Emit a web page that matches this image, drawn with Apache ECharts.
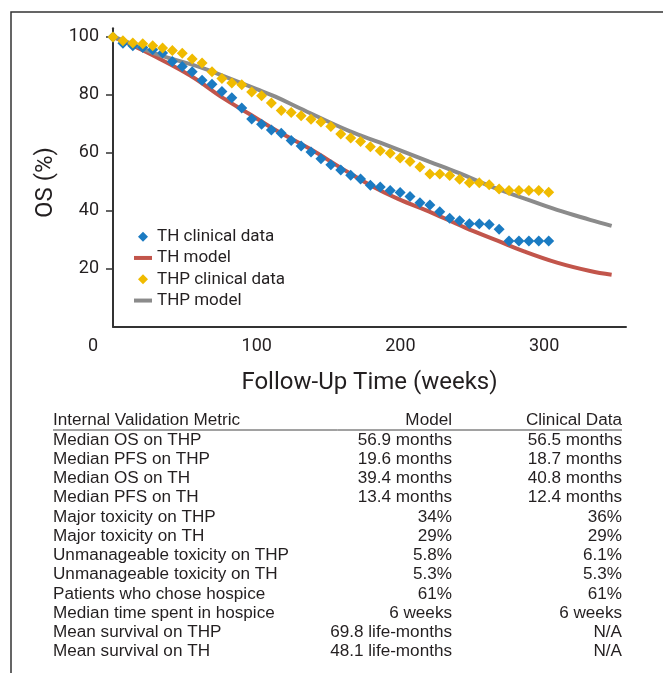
<!DOCTYPE html>
<html>
<head>
<meta charset="utf-8">
<script src="https://cdn.jsdelivr.net/npm/echarts@6.0.0/dist/echarts.min.js"></script>
<style>
  html, body { margin: 0; padding: 0; background: #fff; }
  #chart { width: 663px; height: 673px; }
</style>
</head>
<body>
<div id="chart"></div>
<script>
// clinical data points (weeks, OS %)
const clinicalWeeks = [0, 6.9, 13.8, 20.7, 27.6, 34.5, 41.3, 48.2, 55.1, 62.0, 68.9, 75.8, 82.7, 89.6, 96.5,
  103.4, 110.2, 117.1, 124.0, 130.9, 137.8, 144.7, 151.6, 158.5, 165.4, 172.3, 179.1, 186.0, 192.9, 199.8,
  206.7, 213.6, 220.5, 227.4, 234.3, 241.2, 248.0, 254.9, 261.8, 268.7, 275.6, 282.5, 289.4, 296.3, 303.2]
const thClinical = [100, 97.8, 97.0, 96.4, 95.6, 94.5, 91.5, 89.8, 88.0, 85.1, 83.7, 81.2, 79.0, 75.5, 71.7,
  69.9, 67.9, 66.8, 64.3, 62.4, 60.3, 58.0, 55.9, 54.1, 52.3, 51.0, 48.8, 48.2, 47.0, 46.3,
  44.9, 42.8, 42.0, 39.7, 37.4, 36.6, 35.5, 35.5, 35.3, 33.6, 29.6, 29.6, 29.6, 29.6, 29.6]
const thpClinical = [100, 98.7, 97.9, 97.7, 97.0, 96.2, 95.3, 94.4, 92.4, 91.0, 88.0, 85.7, 84.1, 83.5, 81.0,
  79.7, 77.2, 74.6, 73.9, 72.8, 71.6, 70.7, 69.1, 66.5, 65.1, 63.9, 62.1, 60.7, 59.9, 58.2,
  57.0, 55.1, 52.7, 52.7, 52.2, 50.9, 49.7, 49.7, 49.0, 47.5, 47.0, 47.0, 47.0, 47.0, 46.4]

// model curves
const thModelWeeks = [0, 14, 30, 54, 77, 95, 114, 137, 160, 180, 198, 222, 245, 268, 286, 309, 332, 347]
const thModel = [100, 97.0, 93.1, 86.6, 78.8, 73.4, 67.6, 61.4, 54.4, 48.6, 44.2, 39.3, 34.2, 29.6, 26.0, 22.1, 19.2, 17.9]
const thpModelWeeks = [0, 7, 30, 61, 77, 100, 113, 130, 165, 186, 220, 241, 262, 286, 309, 332, 347]
const thpModel = [100, 98.8, 94.2, 89.5, 86.5, 82.0, 79.4, 75.4, 67.4, 63.5, 57.0, 53.0, 48.6, 44.3, 40.3, 36.9, 34.8]

const xTicks = [0, 100, 200, 300]
const yTicks = [20, 40, 60, 80, 100]

// validation table
const tableHeader = ['Internal Validation Metric', 'Model', 'Clinical Data']
const metricNames = ['Median OS on THP', 'Median PFS on THP', 'Median OS on TH', 'Median PFS on TH',
  'Major toxicity on THP', 'Major toxicity on TH', 'Unmanageable toxicity on THP', 'Unmanageable toxicity on TH',
  'Patients who chose hospice', 'Median time spent in hospice', 'Mean survival on THP', 'Mean survival on TH']
const modelValues = ['56.9 months', '19.6 months', '39.4 months', '13.4 months', '34%', '29%', '5.8%', '5.3%',
  '61%', '6 weeks', '69.8 life-months', '48.1 life-months']
const clinicalValues = ['56.5 months', '18.7 months', '40.8 months', '12.4 months', '36%', '29%', '6.1%', '5.3%',
  '61%', '6 weeks', 'N/A', 'N/A']

const zip = (xs, ys) => xs.map((x, i) => [x, ys[i]])

const ink = '#231f20'
const chartFont = 'Roboto'
const tableFont = '16px "Liberation Sans", Arial, sans-serif'
const diamondIcon = 'path://M5 0L10 5L5 10L0 5Z'
const lineIcon = 'path://M0 0H18V4H0Z'

function tableGraphics() {
  const els = []
  const rowY = 421
  const rowH = 19.25
  const cols = [
    { x: 53, align: 'left' },
    { x: 452, align: 'right' },
    { x: 622, align: 'right' }
  ]
  const addRow = (cells, y) => {
    cells.forEach((t, c) => {
      els.push({
        type: 'text',
        x: cols[c].x,
        y: y,
        scaleX: 1.07,
        style: { text: t, x: 0, y: 0, font: tableFont, fill: ink, align: cols[c].align, verticalAlign: 'middle' }
      })
    })
  }
  addRow(tableHeader, rowY)
  metricNames.forEach((m, i) => {
    addRow([m, modelValues[i], clinicalValues[i]], rowY + (i + 1) * rowH)
  })
  els.push({
    type: 'line',
    shape: { x1: 53, y1: 430, x2: 622, y2: 430 },
    style: { stroke: '#444', lineWidth: 1 }
  })
  // frame
  els.push({
    type: 'polyline',
    shape: { points: [[11, 673], [11, 12], [663, 12]] },
    style: { stroke: '#333', lineWidth: 1.5, fill: null }
  })
  return els
}

const chart = echarts.init(document.getElementById('chart'))
chart.setOption({
  animation: false,
  backgroundColor: '#fff',
  grid: { left: 113, right: 37, top: 28.3, bottom: 346.3, containLabel: false },
  legend: {
    orient: 'vertical',
    left: 134,
    top: 226,
    padding: 0,
    itemWidth: 18,
    itemHeight: 10,
    itemGap: 0,
    textStyle: { fontFamily: chartFont, fontSize: 17, color: ink, lineHeight: 21.3 },
    data: [
      { name: 'TH clinical data', icon: diamondIcon },
      { name: 'TH model', icon: lineIcon },
      { name: 'THP clinical data', icon: diamondIcon },
      { name: 'THP model', icon: lineIcon }
    ]
  },
  xAxis: {
    type: 'value',
    min: 0,
    max: 357,
    name: 'Follow-Up Time (weeks)',
    nameLocation: 'middle',
    nameGap: 44,
    nameTextStyle: { fontFamily: chartFont, fontSize: 24, color: ink },
    axisLine: { lineStyle: { color: '#333', width: 2 } },
    axisTick: { show: false },
    splitLine: { show: false },
    axisLabel: {
      customValues: xTicks,
      margin: 11,
      fontFamily: chartFont,
      fontSize: 18,
      color: ink,
      formatter: v => (v === 0 ? '{z|0}' : String(v)),
      rich: { z: { fontFamily: chartFont, fontSize: 18, color: ink, padding: [0, 40, 0, 0] } }
    }
  },
  yAxis: {
    type: 'value',
    min: 0,
    max: 103,
    name: 'OS (%)',
    nameLocation: 'middle',
    nameGap: 50,
    nameTextStyle: { fontFamily: chartFont, fontSize: 24, color: ink, padding: [0, 10, 0, 0] },
    axisLine: { show: true, lineStyle: { color: '#333', width: 2 } },
    axisTick: { show: true, customValues: yTicks, length: 7, lineStyle: { color: '#333', width: 1.5 } },
    splitLine: { show: false },
    axisLabel: { customValues: yTicks, margin: 14, fontFamily: chartFont, fontSize: 18, color: ink }
  },
  series: [
    {
      name: 'TH clinical data',
      type: 'scatter',
      symbol: 'diamond',
      symbolSize: 11,
      itemStyle: { color: '#1b7bc2', opacity: 1 },
      z: 4,
      data: zip(clinicalWeeks, thClinical)
    },
    {
      name: 'TH model',
      type: 'line',
      smooth: 0.4,
      symbol: 'none',
      lineStyle: { color: '#c2554b', width: 4 },
      itemStyle: { color: '#c2554b' },
      z: 2,
      data: zip(thModelWeeks, thModel)
    },
    {
      name: 'THP clinical data',
      type: 'scatter',
      symbol: 'diamond',
      symbolSize: 11,
      itemStyle: { color: '#f0bb00', opacity: 1 },
      z: 5,
      data: zip(clinicalWeeks, thpClinical)
    },
    {
      name: 'THP model',
      type: 'line',
      smooth: 0.4,
      symbol: 'none',
      lineStyle: { color: '#8b8b8b', width: 4 },
      itemStyle: { color: '#8b8b8b' },
      z: 2,
      data: zip(thpModelWeeks, thpModel)
    }
  ],
  graphic: tableGraphics()
})
</script>
</body>
</html>
